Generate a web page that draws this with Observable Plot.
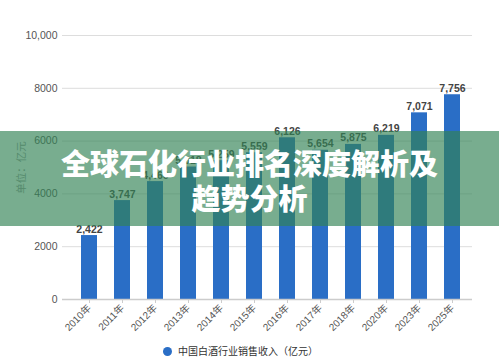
<!DOCTYPE html>
<html>
<head>
<meta charset="utf-8">
<script src="https://cdn.jsdelivr.net/npm/d3@7"></script>
<script src="https://cdn.jsdelivr.net/npm/@observablehq/plot@0.6"></script>
<style>
  html, body { margin: 0; padding: 0; background: #fff; overflow: hidden; }
  #wrap { position: relative; width: 499px; height: 359px; font-family: "Liberation Sans", "Noto Sans CJK SC", sans-serif; }
  #legend { position: absolute; left: 163px; top: 344px; font-size: 10px; color: #333; white-space: nowrap; font-family: "Noto Sans CJK SC", sans-serif; line-height: 14px; }
  #legend .dot { display: inline-block; width: 9px; height: 9px; border-radius: 50%; background: #2a6ec6; vertical-align: -1px; margin-right: 6px; }
  #banner { position: absolute; left: 0; top: 131px; width: 499px; height: 95px; background: rgba(50,130,85,0.66);
    color: #fff; text-align: center; font-family: "Noto Sans CJK SC", sans-serif; font-weight: 900; font-size: 29px; line-height: 35px; box-sizing: border-box; padding-top: 14px; }
</style>
</head>
<body>
<div id="wrap">
  <div id="chart"></div>
  <div id="legend"><span class="dot"></span>中国白酒行业销售收入（亿元）</div>
  <div id="banner">全球石化行业排名深度解析及<br>趋势分析</div>
</div>
<script>
const years = ["2010年","2011年","2012年","2013年","2014年","2015年","2016年","2017年","2018年","2020年","2023年","2025年"];
const revenue = [2422, 3747, 4466, 5018, 5259, 5559, 6126, 5654, 5875, 6219, 7071, 7756];
const yTicks = [0, 2000, 4000, 6000, 8000, 10000];
const yLabel = "单位：亿元";
const seriesName = "中国白酒行业销售收入（亿元）";

const data = years.map((y, i) => ({year: y, value: revenue[i]}));
const fmtComma = d3.format(",");

const chart = Plot.plot({
  width: 499,
  height: 335,
  marginTop: 35,
  marginBottom: 36,
  marginLeft: 62,
  marginRight: 27,
  style: {fontFamily: "'Liberation Sans', 'Noto Sans CJK SC', sans-serif", fontSize: "10px", color: "#555", background: "transparent"},
  x: {domain: years, range: [65.5, 475.5], paddingInner: 0.52, paddingOuter: 0.36},
  y: {domain: [0, 10000]},
  marks: [
    Plot.gridY(yTicks, {stroke: "#ddd", strokeOpacity: 1, strokeWidth: 1}),
    Plot.axisY(yTicks, {tickSize: 0, tickPadding: 5, fontSize: 10.5, fill: "#555",
      tickFormat: d => d >= 10000 ? fmtComma(d) : String(d),
      label: yLabel, labelAnchor: "center", labelOffset: 45, labelArrow: "none"}),
    Plot.barY(data, {x: "year", y: "value", fill: "#2a6ec6"}),
    Plot.ruleY([0], {stroke: "#ccc", strokeWidth: 1.5}),
    Plot.axisX({tickRotate: -45, tickSize: 4, tickPadding: 3, stroke: "#ccc", fill: "#555", fontSize: 10, label: null}),
    Plot.text(data, {x: "year", y: "value", text: d => fmtComma(d.value), lineAnchor: "bottom", dy: -3,
      fontWeight: "bold", fill: "#444", fontSize: 10.5})
  ]
});
document.getElementById("chart").appendChild(chart);
chart.querySelectorAll("[aria-label='y-axis label'] text").forEach(t => t.setAttribute("fill", "#999"));
</script>
</body>
</html>
